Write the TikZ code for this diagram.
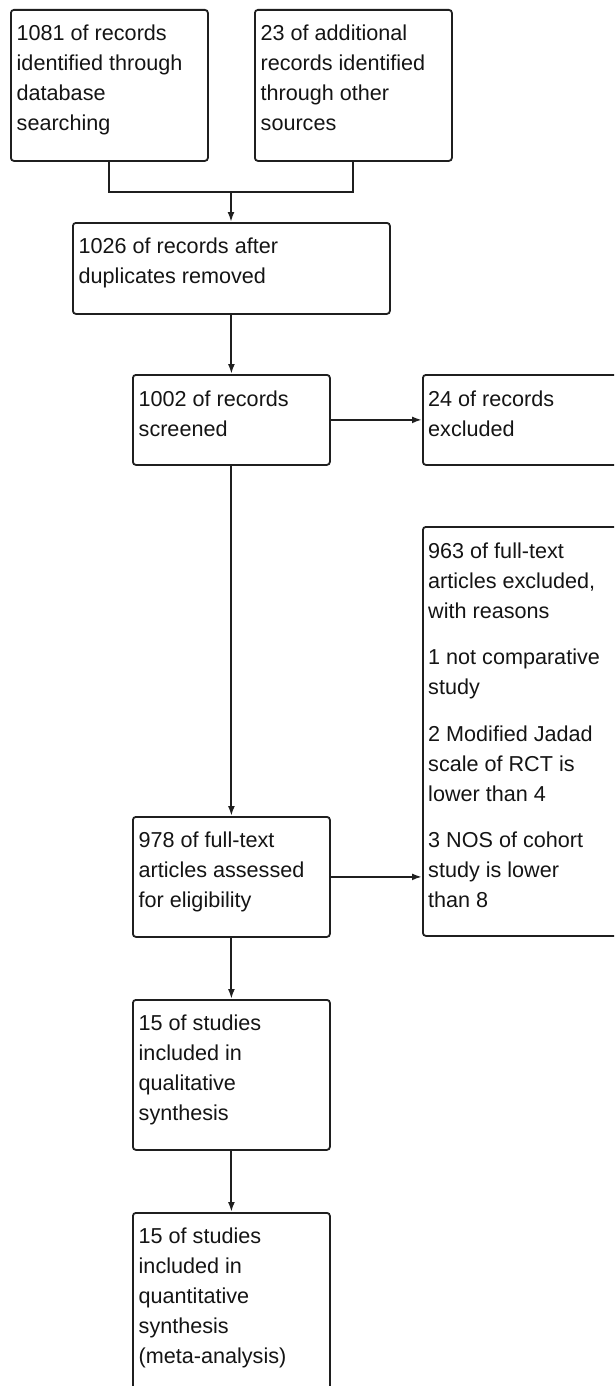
\documentclass[tikz,border=0pt]{standalone}
\usepackage{fontspec}
\setmainfont{Liberation Sans}
\usetikzlibrary{arrows.meta}
\begin{document}
\begin{tikzpicture}[x=1pt,y=-1pt,
  box/.style={draw=black!88, line width=1.8pt, rounded corners=3pt, rectangle, inner sep=0pt, anchor=north west},
  txt/.style={anchor=base west, inner sep=0pt, align=left, text=black!92, font=\fontsize{21.6}{30}\selectfont},
  arr/.style={draw=black!88, line width=2pt, -{Latex[length=10pt,width=7pt]}},
  ln/.style={draw=black!88, line width=2pt}]
\useasboundingbox (0,0) rectangle (614,1386);
\clip (0,0) rectangle (614,1386);
% boxes
\node[box, minimum width=197pt, minimum height=151pt] (a) at (10,9) {};
\node[box, minimum width=197pt, minimum height=151pt] (b) at (254,9) {};
\node[box, minimum width=317pt, minimum height=91pt] (c) at (72,222) {};
\node[box, minimum width=197pt, minimum height=90pt] (d) at (132,374) {};
\node[box, minimum width=197pt, minimum height=90pt] (e) at (422,374) {};
\node[box, minimum width=197pt, minimum height=409pt] (f) at (422,526) {};
\node[box, minimum width=197pt, minimum height=120pt] (g) at (132,816) {};
\node[box, minimum width=197pt, minimum height=150pt] (h) at (132,999) {};
\node[box, minimum width=197pt, minimum height=190pt] (i) at (132,1212) {};
% texts (anchored at the baseline of their last line)
\node[txt] (ta) at (16.5,131) {1081 of records\\identified through\\database\\searching};
\node[txt] (tb) at (260.5,131) {23 of additional\\records identified\\through other\\sources};
\node[txt] (tc) at (78.5,283) {1026 of records after\\duplicates removed};
\node[txt] (td) at (138.5,436) {1002 of records\\screened};
\node[txt] (te) at (428,436) {24 of records\\excluded};
\node[txt] (tf) at (428,907.5) {963 of full-text\\articles excluded,\\with reasons\\[16.5pt]1 not comparative\\study\\[16.5pt]2 Modified Jadad\\scale of RCT is\\lower than 4\\[16.5pt]3 NOS of cohort\\study is lower\\than 8};
\node[txt] (tg) at (138.5,907) {978 of full-text\\articles assessed\\for eligibility};
\node[txt] (th) at (138.5,1120) {15 of studies\\included in\\qualitative\\synthesis};
\node[txt] (ti) at (138.5,1363) {15 of studies\\included in\\quantitative\\synthesis\\(meta-analysis)};
% connectors
\coordinate (m) at (231,192);
\draw[ln] (a.south) |- (m) -| (b.south);
\draw[arr] (m) -- (m |- c.north);
\draw[arr] (c.south) -- (d.north);
\draw[arr] (d.east) -- (d.east -| e.west);
\draw[arr] (d.south) -- (g.north);
\draw[arr] (g.east) -- (g.east -| f.west);
\draw[arr] (g.south) -- (h.north);
\draw[arr] (h.south) -- (i.north);
\end{tikzpicture}
\end{document}
